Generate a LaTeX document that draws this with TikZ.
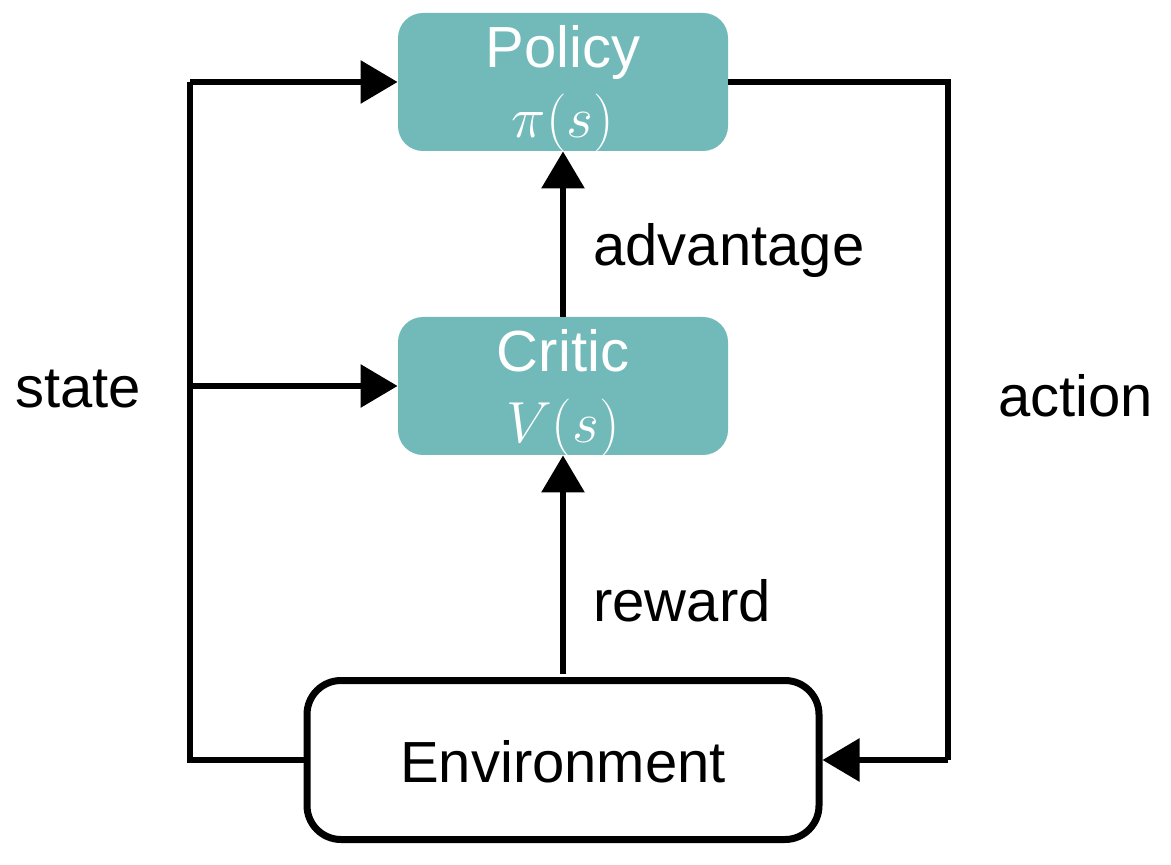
\RequirePackage{fix-cm}
\documentclass[tikz,border=0pt]{standalone}
\usepackage{fontspec}
\setmainfont{Liberation Sans}
\usetikzlibrary{arrows.meta}
\definecolor{teal1}{HTML}{72BAB9}
\tikzset{
  box/.style={rectangle, fill=teal1, rounded corners=12.5pt, minimum width=165pt, minimum height=69pt, inner sep=0pt},
  envbox/.style={rectangle, draw=black, fill=white, line width=3.5pt, rounded corners=17pt, minimum width=256pt, minimum height=79.5pt, inner sep=0pt},
  conn/.style={line width=3pt, -{Triangle[length=18.5pt,width=21pt]}},
  plain/.style={line width=3pt},
  txt/.style={inner sep=0pt, anchor=base, font=\fontsize{29}{35}\selectfont},
  lbl/.style={inner sep=0pt, anchor=base west, font=\fontsize{29}{35}\selectfont},
}
\begin{document}
\begin{tikzpicture}[x=0.5pt,y=-0.5pt]
\useasboundingbox (0,0) rectangle (1171,865);
\node[box] (policy) at (563,82) {};
\node[box] (critic) at (563,386) {};
\node[envbox] (env) at (563,760) {};
\node[txt, text=white] (ptext) at (563,68) {Policy};
\node[txt, text=white] (pmath) at (563,138) {$\pi(s)$};
\node[txt, text=white] (ctext) at (563,372) {Critic};
\node[txt, text=white] (cmath) at (563,443) {$V(s)$};
\node[txt] (etext) at (563,782) {Environment};
\node[lbl] (lstate) at (15,408) {state};
\node[lbl] (laction) at (998,416) {action};
\node[lbl] (ladv) at (593,266) {advantage};
\node[lbl] (lrew) at (593,621) {reward};
\coordinate (lc) at (190,82);
\coordinate (lm) at (190,386);
\coordinate (rc1) at (948,82);
\coordinate (rc2) at (948,760);
\draw[plain] (env.west) -| (lc);
\draw[conn] (lc) -- (policy.west);
\draw[conn] (lm) -- (critic.west);
\draw[plain] (policy.east) -- (rc1) -- (rc2);
\draw[conn] (rc2) -- (env.east);
\draw[conn] (critic.north) -- (policy.south);
\draw[conn] ([yshift=1.75pt]env.north) -- (critic.south);
\end{tikzpicture}
\end{document}
